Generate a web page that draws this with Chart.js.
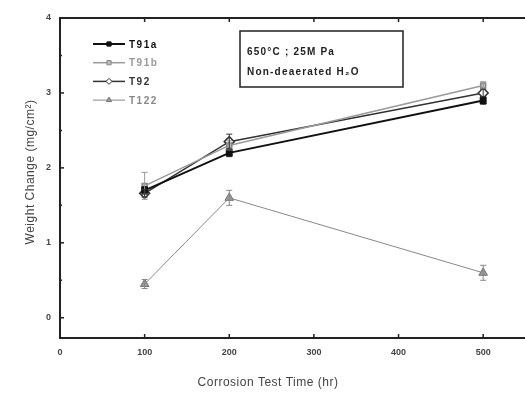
<!DOCTYPE html>
<html>
<head>
<meta charset="utf-8">
<script src="https://cdn.jsdelivr.net/npm/chart.js@4.4.1/dist/chart.umd.min.js"></script>
<style>
    html, body { margin: 0; padding: 0; background: #fff; overflow: hidden; }
    #wrap { width: 532px; height: 393px; }
</style>
</head>
<body>
<div id="wrap"><canvas id="chart"></canvas></div>
<script>
const hours = [100, 200, 500];
const t91a = [1.70, 2.20, 2.90];
const t91b = [1.76, 2.30, 3.10];
const t92 = [1.66, 2.35, 3.00];
const t122 = [0.45, 1.60, 0.60];
const errT91a = [0.05, 0.05, 0.05];
const errT91b = [0.18, 0.06, 0.05];
const errT92 = [0.05, 0.10, 0.05];
const errT122 = [0.06, 0.10, 0.10];
const xTicks = [0, 100, 200, 300, 400, 500];
const yTicks = [0, 1, 2, 3, 4];
const noteLines = ['650°C ; 25M Pa', 'Non-deaerated H₂O'];
const xTitle = 'Corrosion Test Time (hr)';
const yTitle = 'Weight Change (mg/cm²)';

const FONT = '"Liberation Sans", Arial, sans-serif';
const toPoints = ys => hours.map((h, i) => ({ x: h, y: ys[i] }));

// error bars, inward ticks, legend, note box and axis titles
const extras = {
    id: 'extras',
    afterDatasetsDraw(chart) {
        const { ctx, chartArea: a, scales: { x, y } } = chart;
        ctx.save();
        chart.data.datasets.forEach(ds => {
            ctx.strokeStyle = ds.borderColor;
            ctx.lineWidth = 1;
            ds.data.forEach((p, i) => {
                const e = ds.err[i];
                const px = x.getPixelForValue(p.x);
                const top = y.getPixelForValue(p.y + e);
                const bot = y.getPixelForValue(p.y - e);
                ctx.beginPath();
                ctx.moveTo(px, top); ctx.lineTo(px, bot);
                ctx.moveTo(px - 3, top); ctx.lineTo(px + 3, top);
                ctx.moveTo(px - 3, bot); ctx.lineTo(px + 3, bot);
                ctx.stroke();
            });
        });

        ctx.strokeStyle = '#222';
        ctx.lineWidth = 1.5;
        xTicks.forEach(v => {
            const px = x.getPixelForValue(v);
            ctx.beginPath();
            ctx.moveTo(px, a.bottom); ctx.lineTo(px, a.bottom - 4);
            ctx.moveTo(px, a.top); ctx.lineTo(px, a.top + 4);
            ctx.stroke();
        });
        for (let v = 0; v <= 4; v += 0.5) {
            const py = y.getPixelForValue(v);
            ctx.beginPath();
            ctx.moveTo(a.left, py); ctx.lineTo(a.left + (v % 1 === 0 ? 4 : 2), py);
            ctx.stroke();
        }

        // legend
        ctx.font = 'bold 10px ' + FONT;
        ctx.letterSpacing = '1.5px';
        ctx.textBaseline = 'middle';
        chart.data.datasets.forEach((ds, i) => {
            const ly = 44 + i * 18.7;
            const lx = 93;
            ctx.strokeStyle = ds.borderColor;
            ctx.lineWidth = ds.borderWidth;
            ctx.beginPath();
            ctx.moveTo(lx, ly); ctx.lineTo(lx + 32, ly);
            ctx.stroke();
            ctx.fillStyle = ds.pointBackgroundColor;
            ctx.strokeStyle = ds.pointBorderColor;
            ctx.lineWidth = 1;
            Chart.helpers.drawPoint(ctx, { pointStyle: ds.pointStyle, radius: 3, rotation: 0, borderWidth: 1 }, lx + 16, ly);
            ctx.fillStyle = ds.borderColor;
            ctx.fillText(ds.label, lx + 36, ly + 1);
        });

        // note box
        ctx.strokeStyle = '#222';
        ctx.lineWidth = 1.5;
        ctx.strokeRect(240, 31, 163, 56);
        ctx.fillStyle = '#222';
        ctx.font = 'bold 10px ' + FONT;
        ctx.letterSpacing = '1.2px';
        ctx.fillText(noteLines[0], 247, 52);
        ctx.fillText(noteLines[1], 247, 72);

        // axis titles
        ctx.letterSpacing = '0.5px';
        ctx.fillStyle = '#444';
        ctx.font = '12px ' + FONT;
        ctx.textAlign = 'center';
        ctx.fillText(xTitle, 268, 383);
        ctx.translate(31, 172);
        ctx.rotate(-Math.PI / 2);
        ctx.fillText(yTitle, 0, 0);
        ctx.restore();
    }
};

new Chart(document.getElementById('chart'), {
    type: 'line',
    data: {
        datasets: [
            { label: 'T91a', data: toPoints(t91a), err: errT91a, borderColor: '#111', borderWidth: 2,
              pointStyle: 'rect', pointRadius: 3.5, pointBackgroundColor: '#111', pointBorderColor: '#111' },
            { label: 'T91b', data: toPoints(t91b), err: errT91b, borderColor: '#999', borderWidth: 1.5,
              pointStyle: 'rect', pointRadius: 3.5, pointBackgroundColor: '#bbb', pointBorderColor: '#888' },
            { label: 'T92', data: toPoints(t92), err: errT92, borderColor: '#333', borderWidth: 1.5,
              pointStyle: 'rectRot', pointRadius: 5, pointBackgroundColor: '#fff', pointBorderColor: '#333' },
            { label: 'T122', data: toPoints(t122), err: errT122, borderColor: '#888', borderWidth: 1,
              pointStyle: 'triangle', pointRadius: 5, pointBackgroundColor: '#999', pointBorderColor: '#777' }
        ]
    },
    options: {
        responsive: true,
        maintainAspectRatio: false,
        animation: false,
        layout: { padding: { top: 18, right: 0, left: 0, bottom: 0 } },
        plugins: {
            legend: { display: false },
            tooltip: { enabled: false }
        },
        scales: {
            x: {
                type: 'linear', min: 0, max: 550,
                afterFit: s => { s.height = 55; },
                afterBuildTicks: s => { s.ticks = xTicks.map(v => ({ value: v })); },
                grid: { display: false, drawTicks: false },
                border: { display: true, color: '#222', width: 2 },
                ticks: { color: '#444', font: { family: FONT, size: 9, weight: 'bold' }, padding: 9 }
            },
            y: {
                type: 'linear', min: -0.27, max: 4,
                afterFit: s => { s.width = 60; },
                afterBuildTicks: s => { s.ticks = yTicks.map(v => ({ value: v })); },
                grid: { display: false, drawTicks: false },
                border: { display: true, color: '#222', width: 2 },
                ticks: { color: '#444', font: { family: FONT, size: 9, weight: 'bold' }, padding: 9 }
            }
        }
    },
    plugins: [extras, {
        id: 'topBorder',
        afterDraw(chart) {
            const { ctx, chartArea: a } = chart;
            ctx.save();
            ctx.strokeStyle = '#222';
            ctx.lineWidth = 2;
            ctx.beginPath();
            ctx.moveTo(a.left, a.top); ctx.lineTo(a.right, a.top);
            ctx.stroke();
            ctx.restore();
        }
    }]
});
</script>
</body>
</html>
